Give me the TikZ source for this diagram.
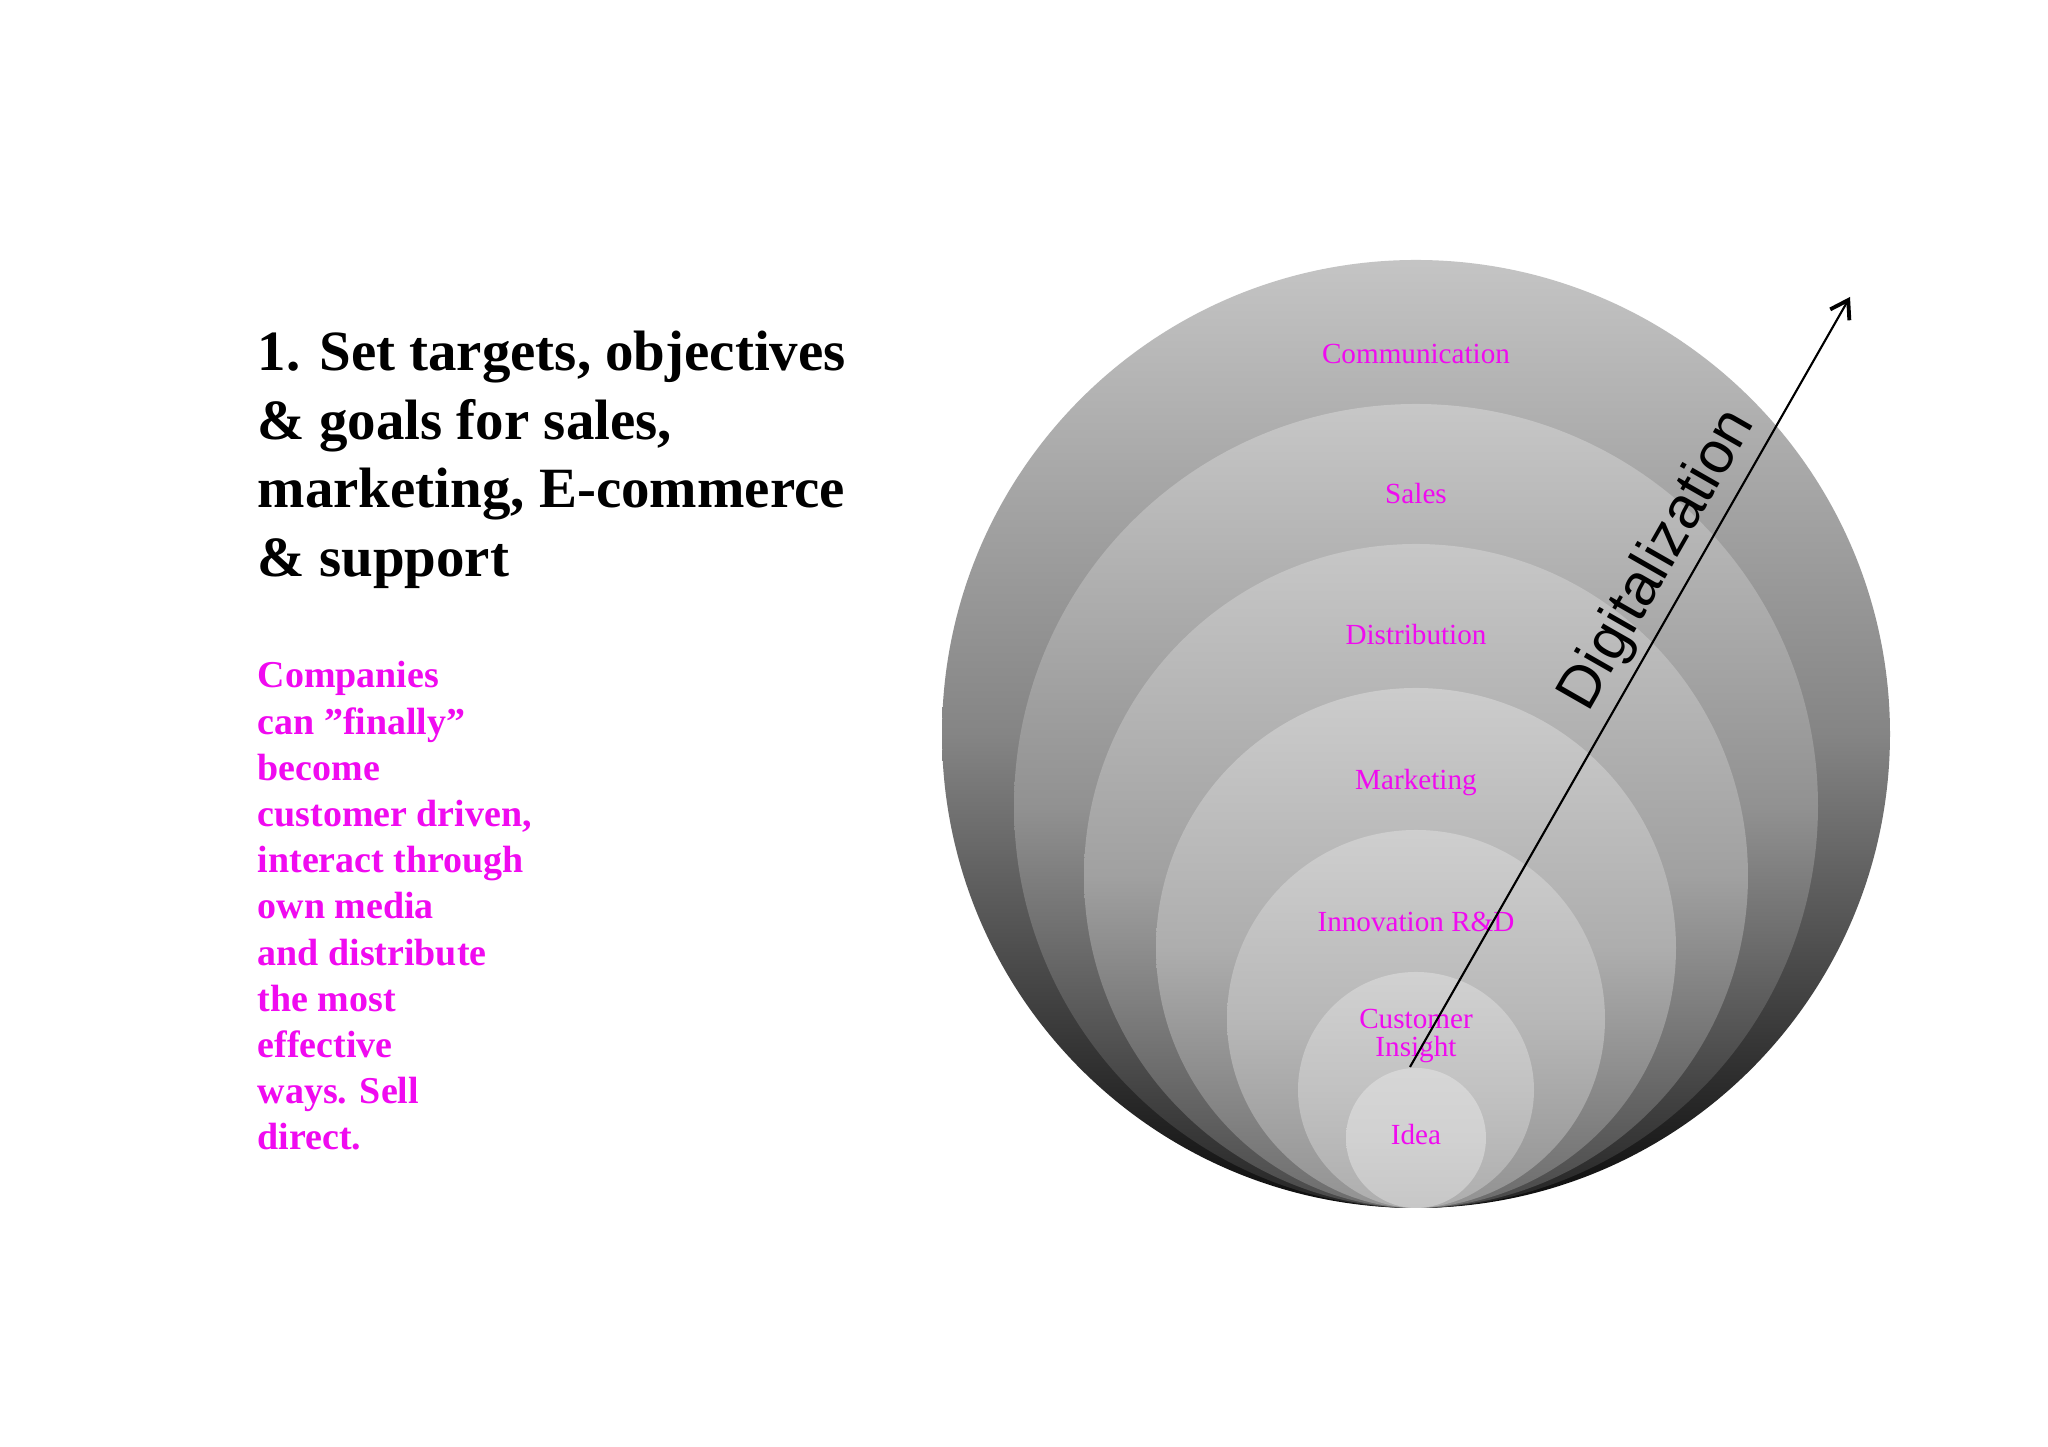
\documentclass[tikz,border=0pt]{standalone}
\usepackage{fontspec}
\setmainfont{Liberation Serif}
\newfontfamily\digifont{Liberation Sans}
\usetikzlibrary{arrows.meta}
\definecolor{labelpink}{RGB}{240,10,240}
\tikzset{
  headline/.style={anchor=base west, inner sep=0pt, font=\fontsize{16.2}{19.6}\selectfont\bfseries},
  bodyline/.style={anchor=base west, inner sep=0pt, text=labelpink, font=\fontsize{10.8}{13}\selectfont\bfseries},
  ringlabel/.style={anchor=base, inner sep=0pt, text=labelpink, font=\fontsize{8.3}{8}\selectfont},
}
\begin{document}
\begin{tikzpicture}
        \fill[white] (0,0) rectangle (20.48,14.47);
        % heading
        \node[headline] (title1) at (2.57,10.76) {1. Set targets, objectives};
        \node[headline] (title2) at (2.57,10.07) {\& goals for sales,};
        \node[headline] (title3) at (2.57,9.39) {marketing, E-commerce};
        \node[headline] (title4) at (2.57,8.70) {\& support};
        % pink text
        \node[bodyline] (copy1) at (2.57,7.59) {Companies};
        \node[bodyline] (copy2) at (2.57,7.128) {can ”finally”};
        \node[bodyline] (copy3) at (2.57,6.666) {become};
        \node[bodyline] (copy4) at (2.57,6.204) {customer driven,};
        \node[bodyline] (copy5) at (2.57,5.742) {interact through};
        \node[bodyline] (copy6) at (2.57,5.28) {own media};
        \node[bodyline] (copy7) at (2.57,4.818) {and distribute};
        \node[bodyline] (copy8) at (2.57,4.356) {the most};
        \node[bodyline] (copy9) at (2.57,3.894) {effective};
        \node[bodyline] (copy10) at (2.57,3.432) {ways. Sell};
        \node[bodyline] (copy11) at (2.57,2.97) {direct.};
        % circles, all touching at the bottom
        \shade[top color=black!23, bottom color=black!95, middle color=black!48] (14.16,7.13) circle (4.74);
        \shade[top color=black!22, bottom color=black!86, middle color=black!43] (14.16,6.41) circle (4.02);
        \shade[top color=black!22, bottom color=black!72, middle color=black!37] (14.16,5.71) circle (3.32);
        \shade[top color=black!20, bottom color=black!58, middle color=black!32] (14.16,4.99) circle (2.60);
        \shade[top color=black!19, bottom color=black!43, middle color=black!28] (14.16,4.28) circle (1.89);
        \shade[top color=black!18, bottom color=black!32, middle color=black!24] (14.16,3.57) circle (1.18);
        \shade[top color=black!16, bottom color=black!22, middle color=black!18] (14.16,3.09) circle (0.70);
        % circle labels
        \node[ringlabel] (communication) at (14.16,10.83) {Communication};
        \node[ringlabel] (sales) at (14.16,9.43) {Sales};
        \node[ringlabel] (distribution) at (14.16,8.02) {Distribution};
        \node[ringlabel] (marketing) at (14.16,6.57) {Marketing};
        \node[ringlabel] (innovation) at (14.16,5.15) {Innovation R\&D};
        \node[ringlabel] (customer) at (14.16,4.18) {Customer};
        \node[ringlabel] (insight) at (14.16,3.90) {Insight};
        \node[ringlabel] (idea) at (14.16,3.02) {Idea};
        % arrow
        \coordinate (digistart) at (14.10,3.80);
        \coordinate (digiend) at (18.50,11.50);
        \draw[-{Straight Barb[length=1.7mm,width=2.2mm,line width=1.1pt]}, line width=0.6pt] (digistart) -- (digiend)
            node[pos=0.635, sloped, above, inner sep=2pt, font=\digifont\fontsize{16.8}{18}\selectfont] (digilabel) {Digitalization};
    \end{tikzpicture}
\end{document}
